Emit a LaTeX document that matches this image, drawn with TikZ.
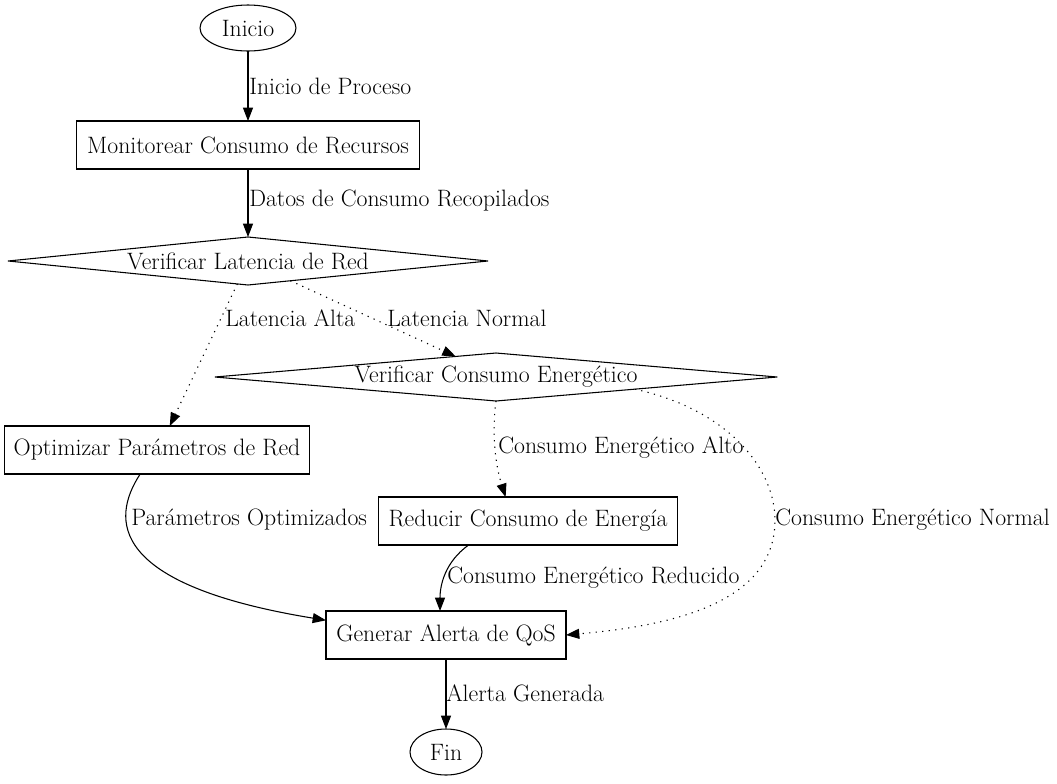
\documentclass[tikz,border=0pt]{standalone}
\usetikzlibrary{shapes.geometric,arrows.meta}
\begin{document}
\begin{tikzpicture}[x=0.75pt,y=-0.75pt,
  every node/.style={font=\fontsize{17.8}{21}\selectfont},
  shp/.style={draw, line width=0.8pt, inner sep=0pt, outer sep=0pt},
  term/.style={shp, ellipse, minimum height=46*0.75pt},
  proc/.style={shp, rectangle, minimum height=48*0.75pt},
  dec/.style={shp, diamond, minimum height=48*0.75pt},
  lbl/.style={anchor=west, inner sep=0pt},
  arr/.style={line width=0.8pt, -{Triangle[length=10pt,width=7.5pt]}},
  dotarr/.style={arr, dash pattern=on 0.9pt off 4pt}
]
\useasboundingbox (0,0) rectangle (1057,783);

% nodes
\node[term, minimum width=96*0.75pt] (inicio) at (248,28) {Inicio};
\node[proc, minimum width=343*0.75pt] (mon) at (248,145) {Monitorear Consumo de Recursos};
\node[dec, aspect=11, minimum width=480*0.75pt] (lat) at (248,261) {Verificar Latencia de Red};
\node[dec, aspect=13, minimum width=562*0.75pt] (vce) at (496,377) {Verificar Consumo Energético};
\node[proc, minimum width=305*0.75pt] (opt) at (157,450) {Optimizar Parámetros de Red};
\node[proc, minimum width=299*0.75pt] (red) at (528,521) {Reducir Consumo de Energía};
\node[proc, minimum width=240*0.75pt] (gen) at (446,635) {Generar Alerta de QoS};
\node[term, minimum width=72*0.75pt] (fin) at (446,752) {Fin};

% edges
\draw[arr] (inicio.south) -- (mon.north);
\draw[arr] (mon.south) -- (lat.north);
\draw[dotarr] (lat.245) -- (opt.62);
\draw[dotarr] (lat.335) -- (vce.153);
\draw[dotarr] (vce.south) .. controls (491,440) and (497,470) .. (red.133);
\draw[dotarr] (vce.355) .. controls (730,410) and (775,470) .. (775,520)
   .. controls (775,600) and (680,625) .. (gen.east);
\draw[arr] (opt.235) .. controls (110,520) and (110,585) .. (gen.173);
\draw[arr] (red.202.5) .. controls (445,562) and (440,585) .. (gen.104);
\draw[arr] (gen.south) -- (fin.north);

% labels
\node[lbl] (l1) at (249,86) {Inicio de Proceso};
\node[lbl] (l2) at (249,201) {Datos de Consumo Recopilados};
\node[lbl] (l3) at (225,318) {Latencia Alta};
\node[lbl] (l4) at (387,318) {Latencia Normal};
\node[lbl] (l5) at (498,448) {Consumo Energético Alto};
\node[lbl] (l6) at (775,520) {Consumo Energético Normal};
\node[lbl] (l7) at (131,520) {Parámetros Optimizados};
\node[lbl] (l8) at (447,578) {Consumo Energético Reducido};
\node[lbl] (l9) at (446,693) {Alerta Generada};
\end{tikzpicture}
\end{document}
